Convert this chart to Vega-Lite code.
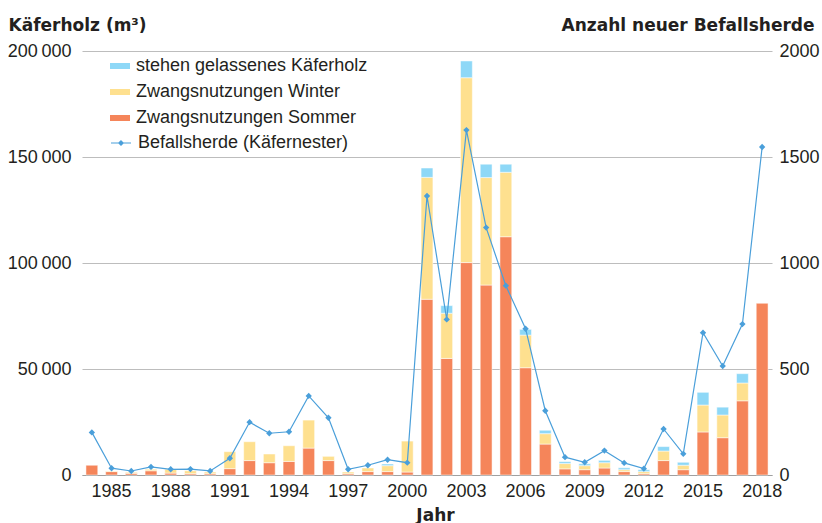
{
  "$schema": "https://vega.github.io/schema/vega-lite/v6.json",
  "width": 690,
  "height": 424,
  "autosize": {"type": "none"},
  "padding": {"left": 82, "top": 51, "right": 50, "bottom": 48},
  "background": "white",
  "config": {
    "font": "Liberation Sans",
    "view": {"stroke": null},
    "axis": {"labelColor": "#231f20", "titleColor": "#231f20", "labelFontSize": 18, "labelFont": "Liberation Sans"}
  },
  "datasets": {
    "holz": [
      {"Jahr": 1984, "Kategorie": "Zwangsnutzungen Sommer", "Menge": 4600},
      {"Jahr": 1985, "Kategorie": "Zwangsnutzungen Sommer", "Menge": 1600},
      {"Jahr": 1985, "Kategorie": "Zwangsnutzungen Winter", "Menge": 300},
      {"Jahr": 1986, "Kategorie": "Zwangsnutzungen Sommer", "Menge": 800},
      {"Jahr": 1986, "Kategorie": "Zwangsnutzungen Winter", "Menge": 500},
      {"Jahr": 1987, "Kategorie": "Zwangsnutzungen Sommer", "Menge": 2000},
      {"Jahr": 1987, "Kategorie": "Zwangsnutzungen Winter", "Menge": 700},
      {"Jahr": 1988, "Kategorie": "Zwangsnutzungen Sommer", "Menge": 900},
      {"Jahr": 1988, "Kategorie": "Zwangsnutzungen Winter", "Menge": 1800},
      {"Jahr": 1989, "Kategorie": "Zwangsnutzungen Sommer", "Menge": 600},
      {"Jahr": 1989, "Kategorie": "Zwangsnutzungen Winter", "Menge": 1400},
      {"Jahr": 1990, "Kategorie": "Zwangsnutzungen Sommer", "Menge": 600},
      {"Jahr": 1990, "Kategorie": "Zwangsnutzungen Winter", "Menge": 800},
      {"Jahr": 1991, "Kategorie": "Zwangsnutzungen Sommer", "Menge": 3000},
      {"Jahr": 1991, "Kategorie": "Zwangsnutzungen Winter", "Menge": 8000},
      {"Jahr": 1992, "Kategorie": "Zwangsnutzungen Sommer", "Menge": 6800},
      {"Jahr": 1992, "Kategorie": "Zwangsnutzungen Winter", "Menge": 8900},
      {"Jahr": 1993, "Kategorie": "Zwangsnutzungen Sommer", "Menge": 5800},
      {"Jahr": 1993, "Kategorie": "Zwangsnutzungen Winter", "Menge": 4100},
      {"Jahr": 1994, "Kategorie": "Zwangsnutzungen Sommer", "Menge": 6400},
      {"Jahr": 1994, "Kategorie": "Zwangsnutzungen Winter", "Menge": 7400},
      {"Jahr": 1995, "Kategorie": "Zwangsnutzungen Sommer", "Menge": 12700},
      {"Jahr": 1995, "Kategorie": "Zwangsnutzungen Winter", "Menge": 13200},
      {"Jahr": 1996, "Kategorie": "Zwangsnutzungen Sommer", "Menge": 6800},
      {"Jahr": 1996, "Kategorie": "Zwangsnutzungen Winter", "Menge": 2000},
      {"Jahr": 1997, "Kategorie": "Zwangsnutzungen Sommer", "Menge": 600},
      {"Jahr": 1997, "Kategorie": "Zwangsnutzungen Winter", "Menge": 800},
      {"Jahr": 1998, "Kategorie": "Zwangsnutzungen Sommer", "Menge": 1600},
      {"Jahr": 1998, "Kategorie": "Zwangsnutzungen Winter", "Menge": 1700},
      {"Jahr": 1999, "Kategorie": "Zwangsnutzungen Sommer", "Menge": 1600},
      {"Jahr": 1999, "Kategorie": "Zwangsnutzungen Winter", "Menge": 2800},
      {"Jahr": 1999, "Kategorie": "stehen gelassenes Käferholz", "Menge": 800},
      {"Jahr": 2000, "Kategorie": "Zwangsnutzungen Sommer", "Menge": 1400},
      {"Jahr": 2000, "Kategorie": "Zwangsnutzungen Winter", "Menge": 14600},
      {"Jahr": 2001, "Kategorie": "Zwangsnutzungen Sommer", "Menge": 82900},
      {"Jahr": 2001, "Kategorie": "Zwangsnutzungen Winter", "Menge": 57500},
      {"Jahr": 2001, "Kategorie": "stehen gelassenes Käferholz", "Menge": 4400},
      {"Jahr": 2002, "Kategorie": "Zwangsnutzungen Sommer", "Menge": 55000},
      {"Jahr": 2002, "Kategorie": "Zwangsnutzungen Winter", "Menge": 21300},
      {"Jahr": 2002, "Kategorie": "stehen gelassenes Käferholz", "Menge": 3600},
      {"Jahr": 2003, "Kategorie": "Zwangsnutzungen Sommer", "Menge": 100200},
      {"Jahr": 2003, "Kategorie": "Zwangsnutzungen Winter", "Menge": 87200},
      {"Jahr": 2003, "Kategorie": "stehen gelassenes Käferholz", "Menge": 7900},
      {"Jahr": 2004, "Kategorie": "Zwangsnutzungen Sommer", "Menge": 89600},
      {"Jahr": 2004, "Kategorie": "Zwangsnutzungen Winter", "Menge": 50700},
      {"Jahr": 2004, "Kategorie": "stehen gelassenes Käferholz", "Menge": 6300},
      {"Jahr": 2005, "Kategorie": "Zwangsnutzungen Sommer", "Menge": 112400},
      {"Jahr": 2005, "Kategorie": "Zwangsnutzungen Winter", "Menge": 30400},
      {"Jahr": 2005, "Kategorie": "stehen gelassenes Käferholz", "Menge": 3800},
      {"Jahr": 2006, "Kategorie": "Zwangsnutzungen Sommer", "Menge": 50600},
      {"Jahr": 2006, "Kategorie": "Zwangsnutzungen Winter", "Menge": 15400},
      {"Jahr": 2006, "Kategorie": "stehen gelassenes Käferholz", "Menge": 2700},
      {"Jahr": 2007, "Kategorie": "Zwangsnutzungen Sommer", "Menge": 14600},
      {"Jahr": 2007, "Kategorie": "Zwangsnutzungen Winter", "Menge": 4900},
      {"Jahr": 2007, "Kategorie": "stehen gelassenes Käferholz", "Menge": 1600},
      {"Jahr": 2008, "Kategorie": "Zwangsnutzungen Sommer", "Menge": 2900},
      {"Jahr": 2008, "Kategorie": "Zwangsnutzungen Winter", "Menge": 2500},
      {"Jahr": 2008, "Kategorie": "stehen gelassenes Käferholz", "Menge": 900},
      {"Jahr": 2009, "Kategorie": "Zwangsnutzungen Sommer", "Menge": 2500},
      {"Jahr": 2009, "Kategorie": "Zwangsnutzungen Winter", "Menge": 1900},
      {"Jahr": 2009, "Kategorie": "stehen gelassenes Käferholz", "Menge": 900},
      {"Jahr": 2010, "Kategorie": "Zwangsnutzungen Sommer", "Menge": 3300},
      {"Jahr": 2010, "Kategorie": "Zwangsnutzungen Winter", "Menge": 2500},
      {"Jahr": 2010, "Kategorie": "stehen gelassenes Käferholz", "Menge": 1100},
      {"Jahr": 2011, "Kategorie": "Zwangsnutzungen Sommer", "Menge": 1600},
      {"Jahr": 2011, "Kategorie": "Zwangsnutzungen Winter", "Menge": 900},
      {"Jahr": 2011, "Kategorie": "stehen gelassenes Käferholz", "Menge": 900},
      {"Jahr": 2012, "Kategorie": "Zwangsnutzungen Sommer", "Menge": 600},
      {"Jahr": 2012, "Kategorie": "Zwangsnutzungen Winter", "Menge": 1000},
      {"Jahr": 2012, "Kategorie": "stehen gelassenes Käferholz", "Menge": 900},
      {"Jahr": 2013, "Kategorie": "Zwangsnutzungen Sommer", "Menge": 6800},
      {"Jahr": 2013, "Kategorie": "Zwangsnutzungen Winter", "Menge": 4500},
      {"Jahr": 2013, "Kategorie": "stehen gelassenes Käferholz", "Menge": 2100},
      {"Jahr": 2014, "Kategorie": "Zwangsnutzungen Sommer", "Menge": 2500},
      {"Jahr": 2014, "Kategorie": "Zwangsnutzungen Winter", "Menge": 2100},
      {"Jahr": 2014, "Kategorie": "stehen gelassenes Käferholz", "Menge": 1400},
      {"Jahr": 2015, "Kategorie": "Zwangsnutzungen Sommer", "Menge": 20300},
      {"Jahr": 2015, "Kategorie": "Zwangsnutzungen Winter", "Menge": 12700},
      {"Jahr": 2015, "Kategorie": "stehen gelassenes Käferholz", "Menge": 6000},
      {"Jahr": 2016, "Kategorie": "Zwangsnutzungen Sommer", "Menge": 17600},
      {"Jahr": 2016, "Kategorie": "Zwangsnutzungen Winter", "Menge": 10700},
      {"Jahr": 2016, "Kategorie": "stehen gelassenes Käferholz", "Menge": 3700},
      {"Jahr": 2017, "Kategorie": "Zwangsnutzungen Sommer", "Menge": 35000},
      {"Jahr": 2017, "Kategorie": "Zwangsnutzungen Winter", "Menge": 8400},
      {"Jahr": 2017, "Kategorie": "stehen gelassenes Käferholz", "Menge": 4400},
      {"Jahr": 2018, "Kategorie": "Zwangsnutzungen Sommer", "Menge": 81000}
    ],
    "herde": [
      {"Jahr": 1984, "Befallsherde": 201},
      {"Jahr": 1985, "Befallsherde": 32},
      {"Jahr": 1986, "Befallsherde": 19},
      {"Jahr": 1987, "Befallsherde": 38},
      {"Jahr": 1988, "Befallsherde": 27},
      {"Jahr": 1989, "Befallsherde": 28},
      {"Jahr": 1990, "Befallsherde": 19},
      {"Jahr": 1991, "Befallsherde": 79},
      {"Jahr": 1992, "Befallsherde": 249},
      {"Jahr": 1993, "Befallsherde": 197},
      {"Jahr": 1994, "Befallsherde": 204},
      {"Jahr": 1995, "Befallsherde": 373},
      {"Jahr": 1996, "Befallsherde": 270},
      {"Jahr": 1997, "Befallsherde": 27},
      {"Jahr": 1998, "Befallsherde": 46},
      {"Jahr": 1999, "Befallsherde": 72},
      {"Jahr": 2000, "Befallsherde": 58},
      {"Jahr": 2001, "Befallsherde": 1316},
      {"Jahr": 2002, "Befallsherde": 734},
      {"Jahr": 2003, "Befallsherde": 1627},
      {"Jahr": 2004, "Befallsherde": 1167},
      {"Jahr": 2005, "Befallsherde": 893},
      {"Jahr": 2006, "Befallsherde": 690},
      {"Jahr": 2007, "Befallsherde": 303},
      {"Jahr": 2008, "Befallsherde": 84},
      {"Jahr": 2009, "Befallsherde": 60},
      {"Jahr": 2010, "Befallsherde": 115},
      {"Jahr": 2011, "Befallsherde": 57},
      {"Jahr": 2012, "Befallsherde": 30},
      {"Jahr": 2013, "Befallsherde": 217},
      {"Jahr": 2014, "Befallsherde": 100},
      {"Jahr": 2015, "Befallsherde": 671},
      {"Jahr": 2016, "Befallsherde": 514},
      {"Jahr": 2017, "Befallsherde": 712},
      {"Jahr": 2018, "Befallsherde": 1547}
    ]
  },
  "layer": [
    {
      "data": {"name": "holz"},
      "mark": {"type": "bar", "stroke": "white", "strokeWidth": 0.5},
      "encoding": {
        "x": {
          "field": "Jahr", "type": "ordinal",
          "scale": {"paddingInner": 0.4, "paddingOuter": 0.2},
          "axis": {
            "title": "Jahr", "labelAngle": 0,
            "labelExpr": "(datum.value - 1985) % 3 == 0 ? datum.label : ''",
            "ticks": false, "domainColor": "#a0a0a0", "domainWidth": 1,
            "labelPadding": 7, "grid": false,
            "titleFont": "DejaVu Sans", "titleFontSize": 17, "titleFontWeight": "bold",
            "titleX": 353, "titleY": 45, "titleBaseline": "alphabetic", "titleAlign": "center"
          }
        },
        "y": {
          "field": "Menge", "type": "quantitative", "stack": "zero",
          "scale": {"domain": [0, 200000]},
          "axis": {
            "title": "Käferholz (m³)", "titleAngle": 0, "titleAlign": "left",
            "titleX": -74, "titleY": -21, "titleBaseline": "alphabetic",
            "titleFont": "DejaVu Sans", "titleFontSize": 17, "titleFontWeight": "bold",
            "values": [0, 50000, 100000, 150000, 200000],
            "labelExpr": "replace(format(datum.value, ','), ',', '\u2009')",
            "labelPadding": 11, "domain": false, "ticks": false,
            "grid": true, "gridColor": "#bdbdbd", "gridWidth": 1
          }
        },
        "color": {
          "field": "Kategorie", "type": "nominal",
          "scale": {
            "domain": ["stehen gelassenes Käferholz", "Zwangsnutzungen Winter", "Zwangsnutzungen Sommer"],
            "range": ["#8ed8f7", "#fee08f", "#f5855a"]
          },
          "legend": {
            "title": null, "orient": "none", "legendX": 28, "legendY": 5,
            "symbolType": "M-1,-0.3H1V0.3H-1Z", "symbolSize": 400,
            "symbolStrokeWidth": 0, "labelFontSize": 18, "labelOffset": 6,
            "labelLimit": 400,
            "rowPadding": 7, "padding": 0, "labelColor": "#231f20",
            "labelFont": "Liberation Sans"
          }
        },
        "order": {"field": "Kategorie", "sort": "ascending"}
      }
    },
    {
      "data": {"name": "herde"},
      "mark": {"type": "line", "strokeWidth": 1.2, "color": "#4a9fda"},
      "encoding": {
        "x": {"field": "Jahr", "type": "ordinal"},
        "y": {
          "field": "Befallsherde", "type": "quantitative",
          "scale": {"domain": [0, 2000]},
          "axis": {
            "orient": "right", "title": "Anzahl neuer Befallsherde",
            "titleAngle": 0, "titleAlign": "right", "titleX": 42, "titleY": -21,
            "titleBaseline": "alphabetic",
            "titleFont": "DejaVu Sans", "titleFontSize": 17, "titleFontWeight": "bold",
            "values": [0, 500, 1000, 1500, 2000], "format": "d",
            "labelPadding": 7, "domain": false, "ticks": false, "grid": false
          }
        },
        "stroke": {
          "datum": "Befallsherde (Käfernester)", "type": "nominal",
          "scale": {"range": ["#4a9fda"]},
          "legend": {
            "title": null, "orient": "none", "legendX": 28, "legendY": 81,
            "symbolType": "M-1,0H1M0,-0.22L0.22,0L0,0.22L-0.22,0Z", "symbolSize": 400,
            "symbolStrokeWidth": 1.2, "symbolFillColor": "#4a9fda",
            "labelFontSize": 18, "labelOffset": 6, "padding": 0, "labelLimit": 400,
            "labelColor": "#231f20", "labelFont": "Liberation Sans"
          }
        }
      }
    },
    {
      "data": {"name": "herde"},
      "mark": {"type": "point", "shape": "diamond", "size": 40, "filled": true, "color": "#4a9fda", "opacity": 1},
      "encoding": {
        "x": {"field": "Jahr", "type": "ordinal"},
        "y": {"field": "Befallsherde", "type": "quantitative", "scale": {"domain": [0, 2000]}, "axis": null}
      }
    }
  ],
  "resolve": {"scale": {"y": "independent"}}
}
